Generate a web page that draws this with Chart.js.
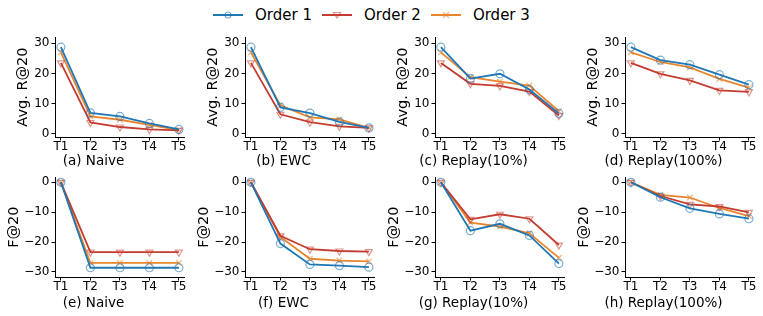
<!DOCTYPE html>
<html>
<head>
<meta charset="utf-8">
<script src="https://cdn.jsdelivr.net/npm/chart.js@4.4.1/dist/chart.umd.min.js"></script>
<style>
  body { margin: 0; background: #fff; font-family: 'DejaVu Sans', sans-serif; }
  #wrap { position: relative; width: 763px; height: 316px; overflow: hidden; }
  #legend { position: absolute; left: 213px; top: 6px; display: flex; align-items: center; font-size: 15px; color: #000; }
  .item { display: flex; align-items: center; margin-right: 10px; }
  .item svg { margin-right: 12px; }
  canvas { position: absolute; }
</style>
</head>
<body>
<div id="wrap"><div id="legend"></div></div>
<script>
// task axis and series names
const tasks = ['T1', 'T2', 'T3', 'T4', 'T5'];
const orders = ['Order 1', 'Order 2', 'Order 3'];

// Avg. R@20, one row per order
const recallNaive   = [[28.7, 7.0, 5.8, 3.5, 1.5], [23.5, 3.8, 2.3, 1.5, 1.2], [27.0, 5.8, 4.7, 3.0, 1.3]];
const recallEWC     = [[28.7, 8.8, 6.9, 4.0, 2.0], [23.5, 6.5, 3.9, 2.5, 2.0], [27.0, 9.5, 5.5, 4.8, 2.0]];
const recallReplay10  = [[28.7, 18.3, 19.9, 14.7, 6.8], [23.5, 16.6, 15.9, 14.0, 6.1], [27.0, 18.8, 17.3, 16.0, 7.5]];
const recallReplay100 = [[28.7, 24.4, 22.9, 19.6, 16.3], [23.5, 19.9, 17.7, 14.4, 13.9], [27.0, 23.8, 22.0, 18.2, 15.3]];

// F@20, one row per order
const forgetNaive   = [[0, -28.6, -28.6, -28.6, -28.6], [0, -23.4, -23.4, -23.4, -23.4], [0, -27.0, -27.0, -27.0, -27.0]];
const forgetEWC     = [[0, -20.5, -27.5, -27.9, -28.4], [0, -17.9, -22.4, -23.0, -23.2], [0, -18.3, -25.6, -26.2, -26.5]];
const forgetReplay10  = [[0, -16.2, -13.9, -17.8, -27.2], [0, -12.4, -10.7, -12.2, -21.0], [0, -13.5, -14.8, -17.1, -25.3]];
const forgetReplay100 = [[0, -5.0, -8.7, -10.6, -12.2], [0, -4.6, -7.4, -8.1, -10.1], [0, -4.2, -5.1, -8.6, -11.3]];

const recallTicks = [0, 10, 20, 30];
const forgetTicks = [-30, -20, -10, 0];

const topTitles = ['(a) Naive', '(b) EWC', '(c) Replay(10%)', '(d) Replay(100%)'];
const bottomTitles = ['(e) Naive', '(f) EWC', '(g) Replay(10%)', '(h) Replay(100%)'];

const colors = ['#1f77b4', '#c43c2f', '#e8862e'];
const markerColors = ['rgba(31,119,180,0.6)', 'rgba(196,60,47,0.55)', 'rgba(232,134,46,0.6)'];
const pointStyles = ['circle', 'triangle', 'crossRot'];
const pointRot = [0, 180, 0];

// legend
const legendSvgs = [
  '<circle cx="15" cy="5" r="3" fill="none" stroke="' + markerColors[0] + '" stroke-width="1.2"/>',
  '<path d="M11.5 2.5 L18.5 2.5 L15 8 Z" fill="none" stroke="' + markerColors[1] + '" stroke-width="1.2"/>',
  '<path d="M12 2 L18 8 M18 2 L12 8" stroke="' + markerColors[2] + '" stroke-width="1.2"/>'
];
const legend = document.getElementById('legend');
orders.forEach((name, k) => {
  const d = document.createElement('div');
  d.className = 'item';
  d.innerHTML = '<svg width="30" height="10"><line x1="0" y1="5" x2="30" y2="5" stroke="' + colors[k] +
    '" stroke-width="2"/>' + legendSvgs[k] + '</svg><span>' + name + '</span>';
  legend.appendChild(d);
});

const minus = v => String(v).replace('-', '\u2212');
const TITLE_SIZE = 13.5;
const titleBox = TITLE_SIZE * 1.2;

function panel(col, row, title, yLabel, series, yMin, yMax, yTicks) {
  const c = document.createElement('canvas');
  const h = row === 0 ? 142 : 148;
  const pb = row === 0 ? 0.6 : 4;
  const yPad = row === 0 ? 15 : 6;
  c.width = 190;
  c.height = h;
  c.style.left = (col * 190) + 'px';
  c.style.top = (row === 0 ? 28 : 168) + 'px';
  document.getElementById('wrap').appendChild(c);
  const xh = h - 9 - 100 - titleBox - pb;

  new Chart(c, {
    type: 'line',
    data: {
      datasets: series.map((vals, k) => ({
        label: orders[k],
        data: vals.map((v, i) => ({ x: i, y: v })),
        borderColor: colors[k],
        borderWidth: 1.8,
        pointStyle: pointStyles[k],
        pointRotation: pointRot[k],
        pointRadius: 4,
        pointBorderWidth: 1.2,
        pointBorderColor: markerColors[k],
        pointBackgroundColor: 'rgba(0,0,0,0)',
        tension: 0,
        clip: false
      }))
    },
    options: {
      responsive: false,
      animation: false,
      layout: { padding: { left: 0, right: 3, top: 9, bottom: 0 } },
      plugins: {
        legend: { display: false },
        tooltip: { enabled: false },
        title: {
          display: true, position: 'bottom', text: title, color: '#000',
          padding: { top: 0, bottom: pb },
          font: { family: 'DejaVu Sans', size: TITLE_SIZE, weight: 'normal', lineHeight: 1.2 }
        }
      },
      scales: {
        x: {
          type: 'linear',
          min: -0.2,
          max: 4.2,
          afterBuildTicks: a => { a.ticks = tasks.map((t, i) => ({ value: i })); },
          afterFit: a => { a.height = xh; },
          ticks: { callback: v => tasks[v], color: '#000', padding: -1, autoSkip: false, maxRotation: 0,
                   font: { family: 'DejaVu Sans', size: 12 } },
          grid: { drawOnChartArea: false, drawTicks: true, tickLength: 3.5, color: '#000' },
          border: { display: true, color: '#000', width: 1 }
        },
        y: {
          min: yMin,
          max: yMax,
          afterBuildTicks: a => { a.ticks = yTicks.map(v => ({ value: v })); },
          afterFit: a => { a.width = 55; },
          ticks: { callback: v => minus(v), color: '#000', padding: 2,
                   font: { family: 'DejaVu Sans', size: 12 } },
          grid: { drawOnChartArea: false, drawTicks: true, tickLength: 3.5, color: '#000' },
          border: { display: true, color: '#000', width: 1 },
          title: { display: true, text: yLabel, color: '#000', padding: { top: yPad, bottom: 0 },
                   font: { family: 'DejaVu Sans', size: 14.5 } }
        }
      }
    }
  });
}

[recallNaive, recallEWC, recallReplay10, recallReplay100].forEach((s, i) =>
  panel(i, 0, topTitles[i], 'Avg. R@20', s, -1, 32, recallTicks));
[forgetNaive, forgetEWC, forgetReplay10, forgetReplay100].forEach((s, i) =>
  panel(i, 1, bottomTitles[i], 'F@20', s, -31.7, 1.7, forgetTicks));
</script>
</body>
</html>
